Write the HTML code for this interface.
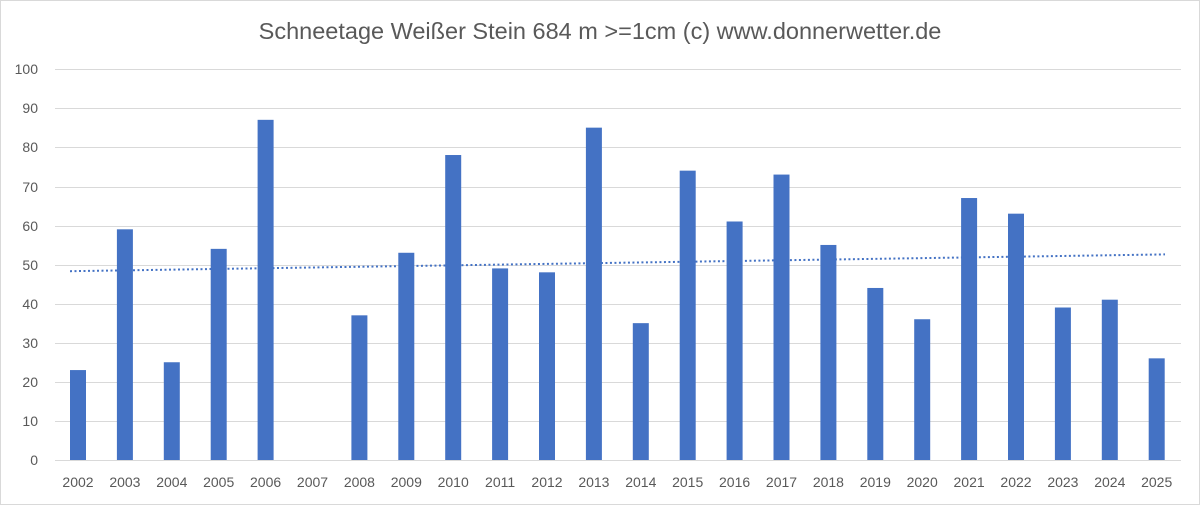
<!DOCTYPE html>
<html><head><style>body{margin:0;background:#fff}svg{display:block}</style></head><body>
<svg width="1200" height="505" xmlns="http://www.w3.org/2000/svg" font-family="Liberation Sans, sans-serif">
<rect x="0.5" y="0.5" width="1199" height="504" fill="#fff" stroke="#d9d9d9"/>
<text x="600" y="39" text-anchor="middle" font-size="23.5" fill="#595959">Schneetage Weißer Stein 684 m &gt;=1cm (c) www.donnerwetter.de</text>
<g stroke="#d9d9d9" stroke-width="1">
<line x1="55" x2="1181" y1="69.5" y2="69.5"/><line x1="55" x2="1181" y1="108.5" y2="108.5"/><line x1="55" x2="1181" y1="147.5" y2="147.5"/><line x1="55" x2="1181" y1="187.5" y2="187.5"/><line x1="55" x2="1181" y1="226.5" y2="226.5"/><line x1="55" x2="1181" y1="265.5" y2="265.5"/><line x1="55" x2="1181" y1="304.5" y2="304.5"/><line x1="55" x2="1181" y1="343.5" y2="343.5"/><line x1="55" x2="1181" y1="382.5" y2="382.5"/><line x1="55" x2="1181" y1="421.5" y2="421.5"/><line x1="55" x2="1181" y1="460.5" y2="460.5"/>
</g>
<g font-size="14" fill="#595959" text-anchor="end">
<text x="38" y="74">100</text><text x="38" y="113">90</text><text x="38" y="152">80</text><text x="38" y="192">70</text><text x="38" y="231">60</text><text x="38" y="270">50</text><text x="38" y="309">40</text><text x="38" y="348">30</text><text x="38" y="387">20</text><text x="38" y="426">10</text><text x="38" y="465">0</text>
</g>
<g id="bars" fill="#4472c4"></g>
<g id="labs" font-size="14" fill="#595959" text-anchor="middle"></g>
<line x1="70" y1="271.2" x2="1165" y2="254.4" stroke="#4472c4" stroke-width="2" stroke-dasharray="2,2.5"/>
<script>
var v=[23,59,25,54,87,0,37,53,78,49,48,85,35,74,61,73,55,44,36,67,63,39,41,26];
var b=document.getElementById('bars'),l=document.getElementById('labs'),ns='http://www.w3.org/2000/svg';
for(var i=0;i<24;i++){var cx=78+i*46.9;var h=v[i]*3.91;
var r=document.createElementNS(ns,'rect');r.setAttribute('x',cx-8);r.setAttribute('width',16);r.setAttribute('y',460-h);r.setAttribute('height',h);b.appendChild(r);
var t=document.createElementNS(ns,'text');t.setAttribute('x',cx);t.setAttribute('y',487);t.textContent=2002+i;l.appendChild(t);}
</script>
</svg>
</body></html>
